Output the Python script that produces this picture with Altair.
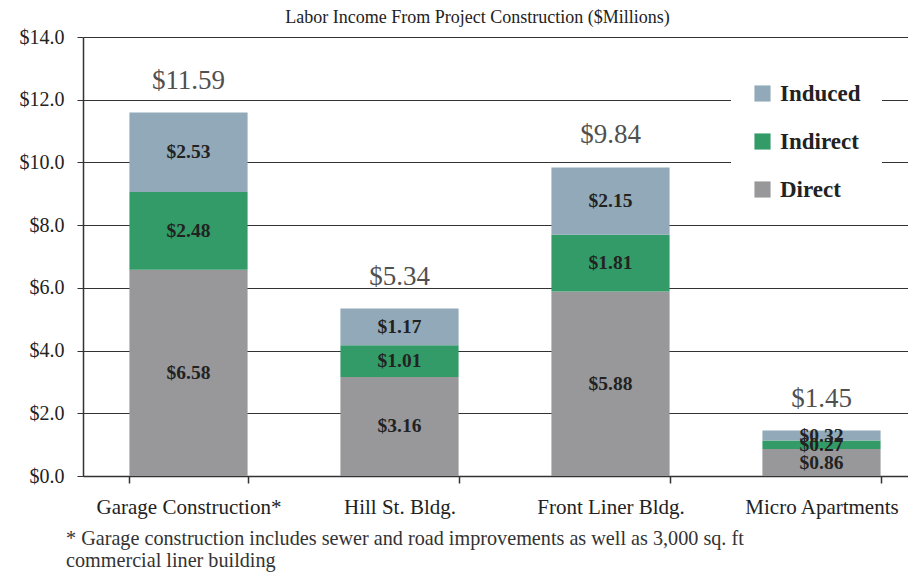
import altair as alt
import pandas as pd

categories = ["Garage Construction*", "Hill St. Bldg.", "Front Liner Bldg.", "Micro Apartments"]
components = ["Direct", "Indirect", "Induced"]
direct = [6.58, 3.16, 5.88, 0.86]
indirect = [2.48, 1.01, 1.81, 0.27]
induced = [2.53, 1.17, 2.15, 0.32]
totals = [11.59, 5.34, 9.84, 1.45]
y_ticks = [0, 2, 4, 6, 8, 10, 12, 14]
legend_order = ["Induced", "Indirect", "Direct"]
legend_colors = ["#91a9b8", "#329b67", "#98989a"]
chart_title = "Labor Income From Project Construction ($Millions)"
footnote = ["* Garage construction includes sewer and road improvements as well as 3,000 sq. ft",
            "commercial liner building"]

FONT = "Liberation Serif"
W, H = 825, 439

rows = []
for i, c in enumerate(categories):
    base = 0.0
    for k, (name, series) in enumerate(zip(components, [direct, indirect, induced])):
        v = series[i]
        rows.append({"category": c, "component": name, "value": v, "order": k, "mid": base + v / 2})
        base += v
df = pd.DataFrame(rows)
tot = pd.DataFrame({"category": categories, "total": totals})
foot = pd.DataFrame({"k": [0]})

x_enc = alt.X(
    "category:N",
    sort=categories,
    scale=alt.Scale(range=[0, 844], paddingInner=0.44, paddingOuter=0.22),
    axis=alt.Axis(
        title=None, labelAngle=0, tickBand="extent", labelFont=FONT, labelFontSize=21,
        labelColor="#222", tickColor="#333", domainColor="#333", domainWidth=1.5,
        tickWidth=1.5, tickSize=7, labelPadding=13, labelLimit=400, grid=False,
    ),
)
y_scale = alt.Scale(domain=[0, 14], nice=False)

bars = alt.Chart(df).mark_bar().encode(
    x=x_enc,
    y=alt.Y(
        "value:Q", stack="zero", scale=y_scale,
        axis=alt.Axis(
            title=None, values=y_ticks, format="$.1f", grid=True, gridColor="#333",
            gridWidth=1.2, domainColor="#333", domainWidth=1.5, tickColor="#333",
            tickSize=6, labelFont=FONT, labelFontSize=20, labelColor="#222",
            labelPadding=13,
        ),
    ),
    color=alt.Color(
        "component:N",
        scale=alt.Scale(domain=legend_order, range=legend_colors),
        legend=alt.Legend(
            title=None, orient="none", legendX=648, legendY=25, fillColor="white",
            strokeColor="white", padding=20, labelFont=FONT, labelFontSize=23,
            labelFontWeight="bold", labelColor="#222", symbolType="square",
            symbolSize=260, symbolStrokeWidth=0, rowPadding=24, labelOffset=6,
        ),
    ),
    order=alt.Order("order:Q"),
)

seg_text = alt.Chart(df).mark_text(
    font=FONT, fontSize=19.5, fontWeight="bold", color="#222", baseline="middle"
).encode(
    x=alt.X("category:N", sort=categories),
    y=alt.Y("mid:Q", scale=y_scale),
    text=alt.Text("value:Q", format="$.2f"),
)

tot_text = alt.Chart(tot).mark_text(
    font=FONT, fontSize=27, color="#505050", baseline="middle", dy=-32
).encode(
    x=alt.X("category:N", sort=categories),
    y=alt.Y("total:Q", scale=y_scale),
    text=alt.Text("total:Q", format="$.2f"),
)

foot_text = alt.Chart(foot).mark_text(
    font=FONT, fontSize=20.2, color="#333", align="left", baseline="alphabetic",
    lineHeight=22,
).encode(
    x=alt.value(-17),
    y=alt.value(H + 69),
    text=alt.value(footnote),
)

chart = alt.layer(bars, seg_text, tot_text, foot_text).properties(
    width=W,
    height=H,
    autosize=alt.AutoSizeParams(type="none"),
    padding={"left": 75, "top": 29, "right": 0, "bottom": 96},
    title=alt.TitleParams(
        chart_title, font=FONT, fontSize=18, fontWeight="normal", color="#222",
        anchor="middle", dx=-18, offset=0,
    ),
).configure_view(stroke=None)

chart.save("out.html", embed_options={"renderer": "svg", "actions": False})
